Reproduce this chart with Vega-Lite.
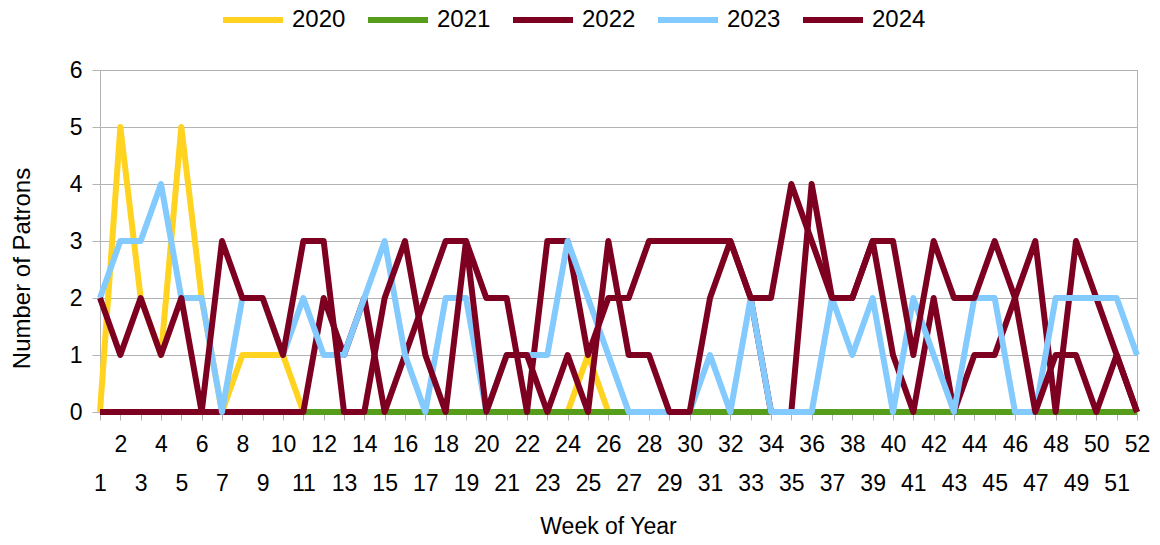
{
"$schema": "https://vega.github.io/schema/vega-lite/v6.json",
"width": 1037, "height": 342,
"autosize": {"type": "none"},
"padding": {"left": 100, "top": 70, "right": 23, "bottom": 133},
"background": "white",
"config": {"view": {"stroke": "#b3b3b3", "strokeWidth": 1}, "font": "Liberation Sans"},
"data": {"values": [
{"week":1,"year":"2020","n":0},{"week":2,"year":"2020","n":5},{"week":3,"year":"2020","n":2},{"week":4,"year":"2020","n":1},{"week":5,"year":"2020","n":5},{"week":6,"year":"2020","n":2},{"week":7,"year":"2020","n":0},{"week":8,"year":"2020","n":1},{"week":9,"year":"2020","n":1},{"week":10,"year":"2020","n":1},{"week":11,"year":"2020","n":0},{"week":12,"year":"2020","n":0},{"week":13,"year":"2020","n":0},{"week":14,"year":"2020","n":0},{"week":15,"year":"2020","n":0},{"week":16,"year":"2020","n":0},{"week":17,"year":"2020","n":0},{"week":18,"year":"2020","n":0},{"week":19,"year":"2020","n":0},{"week":20,"year":"2020","n":0},{"week":21,"year":"2020","n":0},{"week":22,"year":"2020","n":0},{"week":23,"year":"2020","n":0},{"week":24,"year":"2020","n":0},{"week":25,"year":"2020","n":1},{"week":26,"year":"2020","n":0},{"week":27,"year":"2020","n":0},{"week":28,"year":"2020","n":0},{"week":29,"year":"2020","n":0},{"week":30,"year":"2020","n":0},{"week":31,"year":"2020","n":0},{"week":32,"year":"2020","n":0},{"week":33,"year":"2020","n":0},{"week":34,"year":"2020","n":0},{"week":35,"year":"2020","n":0},{"week":36,"year":"2020","n":0},{"week":37,"year":"2020","n":0},{"week":38,"year":"2020","n":0},{"week":39,"year":"2020","n":0},{"week":40,"year":"2020","n":0},{"week":41,"year":"2020","n":0},{"week":42,"year":"2020","n":0},{"week":43,"year":"2020","n":0},{"week":44,"year":"2020","n":0},{"week":45,"year":"2020","n":0},{"week":46,"year":"2020","n":0},{"week":47,"year":"2020","n":0},{"week":48,"year":"2020","n":0},{"week":49,"year":"2020","n":0},{"week":50,"year":"2020","n":0},{"week":51,"year":"2020","n":0},{"week":52,"year":"2020","n":0},
{"week":1,"year":"2021","n":0},{"week":2,"year":"2021","n":0},{"week":3,"year":"2021","n":0},{"week":4,"year":"2021","n":0},{"week":5,"year":"2021","n":0},{"week":6,"year":"2021","n":0},{"week":7,"year":"2021","n":0},{"week":8,"year":"2021","n":0},{"week":9,"year":"2021","n":0},{"week":10,"year":"2021","n":0},{"week":11,"year":"2021","n":0},{"week":12,"year":"2021","n":0},{"week":13,"year":"2021","n":0},{"week":14,"year":"2021","n":0},{"week":15,"year":"2021","n":0},{"week":16,"year":"2021","n":0},{"week":17,"year":"2021","n":0},{"week":18,"year":"2021","n":0},{"week":19,"year":"2021","n":0},{"week":20,"year":"2021","n":0},{"week":21,"year":"2021","n":0},{"week":22,"year":"2021","n":0},{"week":23,"year":"2021","n":0},{"week":24,"year":"2021","n":0},{"week":25,"year":"2021","n":0},{"week":26,"year":"2021","n":0},{"week":27,"year":"2021","n":0},{"week":28,"year":"2021","n":0},{"week":29,"year":"2021","n":0},{"week":30,"year":"2021","n":0},{"week":31,"year":"2021","n":0},{"week":32,"year":"2021","n":0},{"week":33,"year":"2021","n":0},{"week":34,"year":"2021","n":0},{"week":35,"year":"2021","n":0},{"week":36,"year":"2021","n":0},{"week":37,"year":"2021","n":0},{"week":38,"year":"2021","n":0},{"week":39,"year":"2021","n":0},{"week":40,"year":"2021","n":0},{"week":41,"year":"2021","n":0},{"week":42,"year":"2021","n":0},{"week":43,"year":"2021","n":0},{"week":44,"year":"2021","n":0},{"week":45,"year":"2021","n":0},{"week":46,"year":"2021","n":0},{"week":47,"year":"2021","n":0},{"week":48,"year":"2021","n":0},{"week":49,"year":"2021","n":0},{"week":50,"year":"2021","n":0},{"week":51,"year":"2021","n":0},{"week":52,"year":"2021","n":0},
{"week":1,"year":"2022","n":0},{"week":2,"year":"2022","n":0},{"week":3,"year":"2022","n":0},{"week":4,"year":"2022","n":0},{"week":5,"year":"2022","n":0},{"week":6,"year":"2022","n":0},{"week":7,"year":"2022","n":0},{"week":8,"year":"2022","n":0},{"week":9,"year":"2022","n":0},{"week":10,"year":"2022","n":0},{"week":11,"year":"2022","n":0},{"week":12,"year":"2022","n":2},{"week":13,"year":"2022","n":1},{"week":14,"year":"2022","n":2},{"week":15,"year":"2022","n":0},{"week":16,"year":"2022","n":1},{"week":17,"year":"2022","n":2},{"week":18,"year":"2022","n":3},{"week":19,"year":"2022","n":3},{"week":20,"year":"2022","n":2},{"week":21,"year":"2022","n":2},{"week":22,"year":"2022","n":0},{"week":23,"year":"2022","n":3},{"week":24,"year":"2022","n":3},{"week":25,"year":"2022","n":1},{"week":26,"year":"2022","n":2},{"week":27,"year":"2022","n":2},{"week":28,"year":"2022","n":3},{"week":29,"year":"2022","n":3},{"week":30,"year":"2022","n":3},{"week":31,"year":"2022","n":3},{"week":32,"year":"2022","n":3},{"week":33,"year":"2022","n":2},{"week":34,"year":"2022","n":0},{"week":35,"year":"2022","n":0},{"week":36,"year":"2022","n":4},{"week":37,"year":"2022","n":2},{"week":38,"year":"2022","n":2},{"week":39,"year":"2022","n":3},{"week":40,"year":"2022","n":1},{"week":41,"year":"2022","n":0},{"week":42,"year":"2022","n":2},{"week":43,"year":"2022","n":0},{"week":44,"year":"2022","n":1},{"week":45,"year":"2022","n":1},{"week":46,"year":"2022","n":2},{"week":47,"year":"2022","n":3},{"week":48,"year":"2022","n":0},{"week":49,"year":"2022","n":3},{"week":50,"year":"2022","n":2},{"week":51,"year":"2022","n":1},{"week":52,"year":"2022","n":0},
{"week":1,"year":"2023","n":2},{"week":2,"year":"2023","n":3},{"week":3,"year":"2023","n":3},{"week":4,"year":"2023","n":4},{"week":5,"year":"2023","n":2},{"week":6,"year":"2023","n":2},{"week":7,"year":"2023","n":0},{"week":8,"year":"2023","n":2},{"week":9,"year":"2023","n":2},{"week":10,"year":"2023","n":1},{"week":11,"year":"2023","n":2},{"week":12,"year":"2023","n":1},{"week":13,"year":"2023","n":1},{"week":14,"year":"2023","n":2},{"week":15,"year":"2023","n":3},{"week":16,"year":"2023","n":1},{"week":17,"year":"2023","n":0},{"week":18,"year":"2023","n":2},{"week":19,"year":"2023","n":2},{"week":20,"year":"2023","n":0},{"week":21,"year":"2023","n":1},{"week":22,"year":"2023","n":1},{"week":23,"year":"2023","n":1},{"week":24,"year":"2023","n":3},{"week":25,"year":"2023","n":2},{"week":26,"year":"2023","n":1},{"week":27,"year":"2023","n":0},{"week":28,"year":"2023","n":0},{"week":29,"year":"2023","n":0},{"week":30,"year":"2023","n":0},{"week":31,"year":"2023","n":1},{"week":32,"year":"2023","n":0},{"week":33,"year":"2023","n":2},{"week":34,"year":"2023","n":0},{"week":35,"year":"2023","n":0},{"week":36,"year":"2023","n":0},{"week":37,"year":"2023","n":2},{"week":38,"year":"2023","n":1},{"week":39,"year":"2023","n":2},{"week":40,"year":"2023","n":0},{"week":41,"year":"2023","n":2},{"week":42,"year":"2023","n":1},{"week":43,"year":"2023","n":0},{"week":44,"year":"2023","n":2},{"week":45,"year":"2023","n":2},{"week":46,"year":"2023","n":0},{"week":47,"year":"2023","n":0},{"week":48,"year":"2023","n":2},{"week":49,"year":"2023","n":2},{"week":50,"year":"2023","n":2},{"week":51,"year":"2023","n":2},{"week":52,"year":"2023","n":1},
{"week":1,"year":"2024","n":2},{"week":2,"year":"2024","n":1},{"week":3,"year":"2024","n":2},{"week":4,"year":"2024","n":1},{"week":5,"year":"2024","n":2},{"week":6,"year":"2024","n":0},{"week":7,"year":"2024","n":3},{"week":8,"year":"2024","n":2},{"week":9,"year":"2024","n":2},{"week":10,"year":"2024","n":1},{"week":11,"year":"2024","n":3},{"week":12,"year":"2024","n":3},{"week":13,"year":"2024","n":0},{"week":14,"year":"2024","n":0},{"week":15,"year":"2024","n":2},{"week":16,"year":"2024","n":3},{"week":17,"year":"2024","n":1},{"week":18,"year":"2024","n":0},{"week":19,"year":"2024","n":3},{"week":20,"year":"2024","n":0},{"week":21,"year":"2024","n":1},{"week":22,"year":"2024","n":1},{"week":23,"year":"2024","n":0},{"week":24,"year":"2024","n":1},{"week":25,"year":"2024","n":0},{"week":26,"year":"2024","n":3},{"week":27,"year":"2024","n":1},{"week":28,"year":"2024","n":1},{"week":29,"year":"2024","n":0},{"week":30,"year":"2024","n":0},{"week":31,"year":"2024","n":2},{"week":32,"year":"2024","n":3},{"week":33,"year":"2024","n":2},{"week":34,"year":"2024","n":2},{"week":35,"year":"2024","n":4},{"week":36,"year":"2024","n":3},{"week":37,"year":"2024","n":2},{"week":38,"year":"2024","n":2},{"week":39,"year":"2024","n":3},{"week":40,"year":"2024","n":3},{"week":41,"year":"2024","n":1},{"week":42,"year":"2024","n":3},{"week":43,"year":"2024","n":2},{"week":44,"year":"2024","n":2},{"week":45,"year":"2024","n":3},{"week":46,"year":"2024","n":2},{"week":47,"year":"2024","n":0},{"week":48,"year":"2024","n":1},{"week":49,"year":"2024","n":1},{"week":50,"year":"2024","n":0},{"week":51,"year":"2024","n":1},{"week":52,"year":"2024","n":0}
]},
"mark": {"type": "line", "strokeWidth": 6, "strokeJoin": "round", "strokeCap": "butt"},
"encoding": {
  "x": {"field": "week", "type": "quantitative",
    "scale": {"domain": [1, 52], "nice": false, "zero": false},
    "axis": {"values": [1,2,3,4,5,6,7,8,9,10,11,12,13,14,15,16,17,18,19,20,21,22,23,24,25,26,27,28,29,30,31,32,33,34,35,36,37,38,39,40,41,42,43,44,45,46,47,48,49,50,51,52],
      "title": "Week of Year", "labelExpr": "datum.value % 2 == 1 ? ['', datum.label] : datum.label",
      "labelFontSize": 23, "labelLineHeight": 39, "labelOverlap": false, "labelFlush": false, "labelBound": false,
      "tickSize": 8, "labelPadding": 13, "domainColor": "#b3b3b3", "tickColor": "#b3b3b3", "grid": false,
      "labelColor": "black", "titleColor": "black", "titleFontSize": 23, "titleFontWeight": "normal",
      "titleX": 508, "titleY": 121, "titleBaseline": "alphabetic"}},
  "y": {"field": "n", "type": "quantitative",
    "scale": {"domain": [0, 6], "nice": false},
    "axis": {"values": [0,1,2,3,4,5,6], "title": "Number of Patrons", "grid": true, "gridColor": "#b3b3b3",
      "domainColor": "#b3b3b3", "tickColor": "#b3b3b3", "tickSize": 8, "labelPadding": 10,
      "labelFontSize": 23, "labelColor": "black", "titleColor": "black", "titleFontSize": 24, "titleFontWeight": "normal",
      "titleX": -71, "titleY": 198, "titleAlign": "center", "titleBaseline": "alphabetic", "titleAngle": -90}},
  "color": {"field": "year", "type": "nominal",
    "scale": {"domain": ["2020","2021","2022","2023","2024"], "range": ["#ffd320","#579d1c","#7e0021","#83caff","#7e0021"]},
    "legend": {"orient": "none", "legendX": 120, "legendY": -83, "direction": "horizontal", "columns": 5, "title": null,
      "symbolType": "stroke", "symbolStrokeWidth": 6, "symbolSize": 3600, "labelFontSize": 24, "labelOffset": 6,
      "columnPadding": 10, "labelColor": "black", "padding": 0}}
}
}
